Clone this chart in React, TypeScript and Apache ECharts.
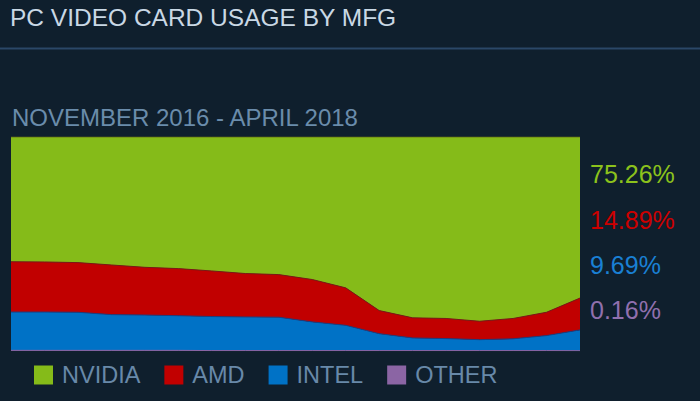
import React, { useEffect, useRef } from 'react';
import * as echarts from 'echarts';
import type { EChartsOption } from 'echarts';

// monthly share of PC video cards, Nov 2016 - Apr 2018 (percent)
const months = [
  '2016-11', '2016-12', '2017-01', '2017-02', '2017-03', '2017-04',
  '2017-05', '2017-06', '2017-07', '2017-08', '2017-09', '2017-10',
  '2017-11', '2017-12', '2018-01', '2018-02', '2018-03', '2018-04',
];
const nvidia = [58.3, 58.4, 58.7, 59.8, 60.9, 61.5, 62.6, 63.8, 64.3, 66.6, 70.5, 81.1, 84.5, 84.8, 86.1, 84.8, 81.9, 75.26];
const amd = [23.5, 23.4, 23.2, 23.2, 22.3, 22.0, 21.3, 20.3, 19.9, 19.8, 17.5, 10.8, 9.4, 9.4, 8.6, 9.5, 10.9, 14.89];
const intel = [17.9, 17.9, 17.8, 16.7, 16.5, 16.2, 15.9, 15.7, 15.6, 13.4, 11.8, 7.9, 5.9, 5.6, 5.1, 5.5, 7.0, 9.69];
const other = [0.3, 0.3, 0.3, 0.3, 0.3, 0.3, 0.2, 0.2, 0.2, 0.2, 0.2, 0.2, 0.2, 0.2, 0.2, 0.2, 0.2, 0.16];

const BG = '#0f1f2d';
const FONT = '"Liberation Sans", Arial, sans-serif';

const vendors = [
  { name: 'NVIDIA', data: nvidia, color: '#85bb19', edge: '#6f7c14', label: '#8cc21c' },
  { name: 'AMD', data: amd, color: '#c10000', edge: '#7d1616', label: '#cc0000' },
  { name: 'INTEL', data: intel, color: '#0072c6', edge: '#1e3f80', label: '#1a80d4' },
  { name: 'OTHER', data: other, color: '#8b65a4', edge: '#8b65a4', label: '#9070ad' },
];

const labelY = [174, 220, 265, 310];

const App: React.FC = () => {
  const chartRef = useRef<HTMLDivElement>(null);

  useEffect(() => {
    document.body.style.margin = '0';
    document.body.style.background = BG;
    const chart = echarts.init(chartRef.current!, null, { renderer: 'svg' });

    // stack bottom-up: other, intel, amd, nvidia
    const stackOrder = [...vendors].reverse();

    const option: EChartsOption = {
      animation: false,
      backgroundColor: BG,
      grid: { left: 11, top: 137, width: 569, height: 214 },
      xAxis: {
        type: 'category',
        data: months,
        boundaryGap: false,
        show: false,
      },
      yAxis: { type: 'value', min: 0, max: 100, show: false },
      legend: {
        data: vendors.map((v) => v.name),
        left: 29,
        top: 358,
        icon: 'rect',
        itemWidth: 19,
        itemHeight: 19,
        itemGap: 24,
        itemStyle: { borderWidth: 0 },
        textStyle: {
          color: '#6889a9',
          fontSize: 23.5,
          fontFamily: FONT,
          padding: [8, 0, 0, 4],
        },
      },
      graphic: [
        {
          type: 'text',
          left: 10,
          top: 5,
          style: { text: 'PC VIDEO CARD USAGE BY MFG', fill: '#c9d8e5', font: `24.5px ${FONT}` },
        },
        {
          type: 'line',
          shape: { x1: 0, y1: 48.5, x2: 700, y2: 48.5 },
          style: { stroke: '#2a4767', lineWidth: 2 },
        },
        {
          type: 'text',
          left: 12,
          top: 105,
          style: { text: 'NOVEMBER 2016 - APRIL 2018', fill: '#6a8cab', font: `24px ${FONT}` },
        },
        ...vendors.map((v, i) => ({
          type: 'text' as const,
          x: 590,
          y: labelY[i],
          style: {
            text: v.data[v.data.length - 1].toFixed(2) + '%',
            fill: v.label,
            font: `25px ${FONT}`,
            verticalAlign: 'middle' as const,
          },
        })),
      ],
      series: stackOrder.map((v) => ({
        name: v.name,
        type: 'line' as const,
        stack: 'share',
        data: v.data,
        symbol: 'none',
        showSymbol: false,
        itemStyle: { color: v.color },
        lineStyle: { width: 1, color: v.edge },
        areaStyle: { color: v.color, opacity: 1 },
      })),
    };

    chart.setOption(option);
    return () => chart.dispose();
  }, []);

  return <div ref={chartRef} style={{ width: 700, height: 401 }} />;
};

export default App;
